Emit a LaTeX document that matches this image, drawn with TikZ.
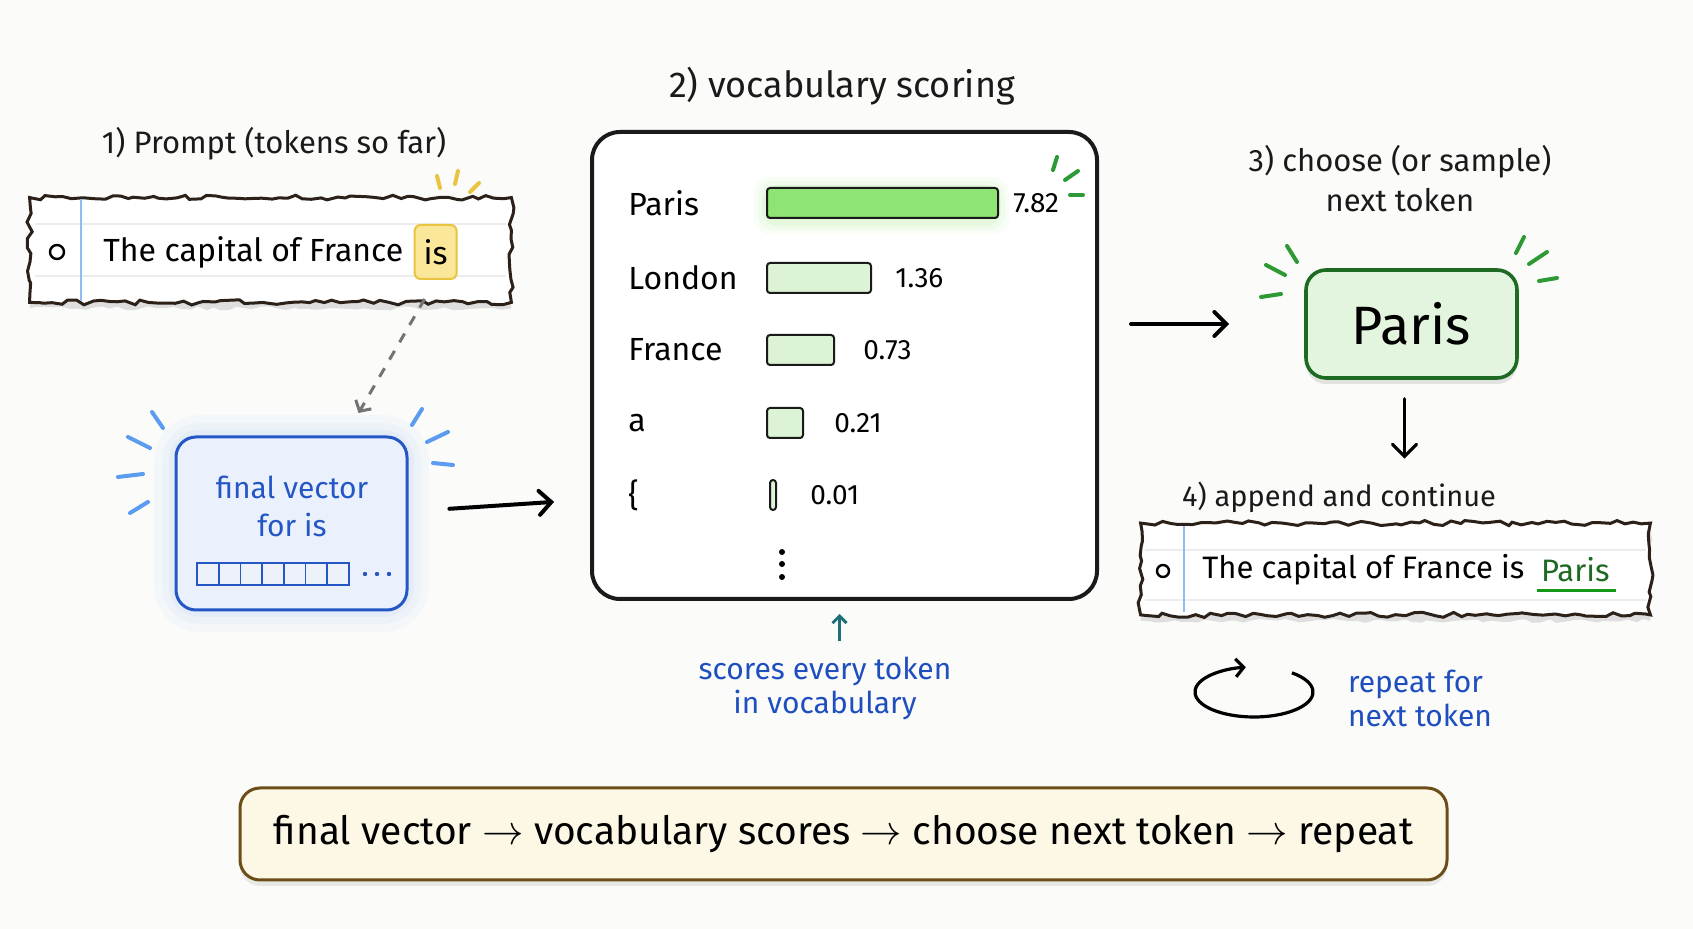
\documentclass[tikz,border=0pt]{standalone}
\usepackage{fontspec}
\setmainfont{Fira Sans}
\usetikzlibrary{arrows.meta,positioning,calc,decorations.pathmorphing,shadows}
\definecolor{InkClr}{HTML}{1A1A1A}
\definecolor{PaperClr}{HTML}{FBFBFA}
\definecolor{StripClr}{HTML}{2B2119}
\definecolor{MarginClr}{HTML}{8DBDF2}
\definecolor{RuleClr}{HTML}{ECECEC}
\definecolor{NoteClr}{HTML}{1F4FBF}
\definecolor{VecClr}{HTML}{2457C5}
\definecolor{VecFill}{HTML}{EAF1FD}
\definecolor{SparkBlue}{HTML}{5B9CF0}
\definecolor{TealClr}{HTML}{1F6F7A}
\definecolor{BarClr}{HTML}{8EE474}
\definecolor{BarLight}{HTML}{DDF3D6}
\definecolor{PickClr}{HTML}{1E6A22}
\definecolor{PickFill}{HTML}{E4F5DF}
\definecolor{SparkGreen}{HTML}{2E9A35}
\definecolor{IsFill}{HTML}{FBE79A}
\definecolor{IsClr}{HTML}{E8C440}
\definecolor{SumFill}{HTML}{FDF8E6}
\definecolor{SumClr}{HTML}{6B4E17}

\tikzset{
  torn/.style={draw=StripClr,line width=1.5pt,fill=white,
    decorate,decoration={random steps,segment length=4pt,amplitude=1.3pt}},
  spark/.style={line width=2pt,line cap=round},
  title/.style={font=\fontsize{15.5}{20}\selectfont,text=InkClr,align=center},
  note/.style={font=\fontsize{15}{17}\selectfont,text=NoteClr,align=center},
  word/.style={font=\fontsize{16}{20}\selectfont,anchor=west,inner sep=0pt},
  score/.style={font=\fontsize{14}{16}\selectfont,anchor=west,inner sep=0pt},
  bar/.style={draw=InkClr,line width=1pt,rounded corners=1.5pt,anchor=west,
    inner sep=0pt,minimum height=15pt},
  flow/.style={line width=2pt,line cap=round,
    -{Straight Barb[length=6pt,width=12pt,line cap=round]}},
  hint/.style={line width=1.5pt,draw=black!55,dash pattern=on 5pt off 5pt,
    -{Straight Barb[length=4pt,width=9pt]}},
  uparrow/.style={line width=1.5pt,draw=TealClr,
    -{Straight Barb[length=3.5pt,width=7pt]}},
}

\begin{document}
\begin{tikzpicture}[x=0.5pt,y=-0.5pt]
\pgfmathsetseed{7}
\fill[PaperClr] (0,0) rectangle (1693,929);
\useasboundingbox (0,0) rectangle (1693,929);

% 1) prompt
\node[title] (title1) at (274,144) {1) Prompt (tokens so far)};
\node[minimum width=240.5pt,minimum height=52pt] (prompt) at (270.5,250) {};
\fill[black!13,decorate,decoration={random steps,segment length=4pt,amplitude=1pt}]
  ([yshift=-3pt]prompt.north west) rectangle ([yshift=-3pt]prompt.south east);
\draw[torn] (prompt.north west) rectangle (prompt.south east);
\foreach \y in {224,276} \draw[RuleClr,line width=0.8pt] (35,\y) -- (506,\y);
\draw[MarginClr,line width=1.2pt] (81,199) -- (81,301);
\draw[line width=1.2pt] (57,252) circle[radius=7];
\node[word,font=\fontsize{16}{19}\selectfont] (ptext) at (103,252) {The capital of France};
\node[right=5pt of ptext,fill=IsFill,draw=IsClr,line width=1pt,rounded corners=3pt,
  minimum height=27pt,minimum width=21pt,font=\fontsize{16}{19}\selectfont] (isbox) {is};
\foreach \a/\b/\c/\d in {437/176/440/188,458/171/455/184,479/183/470/192}
  \draw[spark,IsClr] (\a,\b) -- (\c,\d);

% final vector
\foreach \w/\o in {22/0.04,14/0.05,7/0.06}
  \draw[SparkBlue,opacity=\o,line width=\w pt,rounded corners=12pt] (176,437) rectangle (407,610);
\node[draw=VecClr,fill=VecFill,line width=1.5pt,rounded corners=10pt,
  minimum width=115.5pt,minimum height=86.5pt] (vecbox) at (291.5,523.5) {};
\node[note,text=VecClr,font=\fontsize{15}{19}\selectfont] (vectext) at (292,506) {final vector\\for is};
\foreach \i in {0,...,6}
  \draw[VecClr,line width=0.9pt,fill=VecClr!8] (197+\i*21.7,563) rectangle ++(21.7,22);
\foreach \x in {365,377,389} \fill[VecClr] (\x,574) circle[radius=2.2];
\foreach \a/\b/\c/\d in {152/412/163/428,128/437/150/448,118/477/143/474,130/513/148/502,
  412/425/422/409,427/442/448/432,433/463/453/465}
  \draw[spark,SparkBlue] (\a,\b) -- (\c,\d);
\draw[hint,shorten <=11pt,shorten >=13pt] (isbox.south) -- ([xshift=27pt]vecbox.north);

% 2) vocabulary scoring
\node[title,font=\fontsize{18}{20}\selectfont] (title2) at (842,86) {2) vocabulary scoring};
\node[draw=InkClr,fill=white,line width=2pt,rounded corners=14pt,
  minimum width=252.5pt,minimum height=233.5pt] (scorebox) at (844.5,365.5) {};
\foreach \g/\o in {12/0.06,8/0.08,4/0.1}
  \fill[BarClr,opacity=\o,rounded corners=8pt] (766-\g,189-\g) rectangle (997+\g,222+\g);
\foreach \lbl/\y/\x/\w/\v/\vx/\f [count=\i] in {Paris/203/766/231/7.82/1013/BarClr,
  London/278/766/104/1.36/895/BarLight,France/350/766/67/0.73/863/BarLight,
  a/423/766/36/0.21/834/BarLight,\{/495/769/6/0.01/810/BarLight}{
  \node[word] (lbl\i) at (628,\y) {\lbl};
  \node[bar,fill=\f,minimum width=\w*0.5pt] (bar\i) at (\x,\y) {};
  \node[score] (val\i) at (\vx,\y) {\v};
}
\foreach \y in {552,564,577} \fill (782,\y) circle[radius=3];
\foreach \a/\b/\c/\d in {1053/170/1057/157,1065/180/1078/171,1070/195/1083/195}
  \draw[spark,SparkGreen] (\a,\b) -- (\c,\d);
\draw[flow,shorten <=20.5pt,shorten >=18pt] ([yshift=6pt]vecbox.east) -- ([yshift=12pt]scorebox.west |- vecbox.east);

\node[note] (note) at (825,688) {scores every token\\in vocabulary};
\draw[uparrow,shorten <=4pt,shorten >=6.5pt] ([xshift=-2.5pt]scorebox.south |- note.north) -- ([xshift=-2.5pt]scorebox.south);

% 3) choose
\node[title] (title3) at (1400,179) {3) choose (or sample)\\next token};
\node[draw=PickClr,fill=PickFill,line width=1.8pt,rounded corners=10pt,
  minimum width=105.5pt,minimum height=54pt,font=\fontsize{27}{30}\selectfont,
  drop shadow={opacity=0.2,shadow xshift=0pt,shadow yshift=-3pt}] (pick) at (1411.5,324) {Paris};
\foreach \a/\b/\c/\d in {1287/246/1297/262,1266/265/1285/275,1261/297/1281/294,
  1516/253/1524/237,1529/264/1547/252,1539/281/1557/278}
  \draw[spark,SparkGreen] (\a,\b) -- (\c,\d);
\draw[flow,shorten <=16pt,shorten >=37.5pt] (scorebox.east |- pick.west) -- (pick.west);

% 4) append
\node[title,font=\fontsize{14.5}{18}\selectfont] (title4) at (1339,497) {4) append and continue};
\draw[flow,line width=1.6pt,shorten <=9.5pt,shorten >=8pt] ([xshift=-3.5pt]pick.south) -- ([xshift=-3.5pt]pick.south |- title4.north);
\node[minimum width=254.5pt,minimum height=45.5pt] (outstrip) at (1395.5,569) {};
\fill[black!13,decorate,decoration={random steps,segment length=4pt,amplitude=1pt}]
  ([yshift=-3pt]outstrip.north west) rectangle ([yshift=-3pt]outstrip.south east);
\draw[torn] (outstrip.north west) rectangle (outstrip.south east);
\foreach \y in {550,600} \draw[RuleClr,line width=0.8pt] (1145,\y) -- (1646,\y);
\draw[MarginClr,line width=1.2pt] (1184,526) -- (1184,612);
\draw[line width=1.2pt] (1163,571) circle[radius=6];
\node[word,font=\fontsize{15.5}{18}\selectfont] (otext) at (1202,570) {The capital of France is};
\node[word,right=8pt of otext,text=PickClr,font=\fontsize{15.5}{18}\selectfont] (opick) {Paris};
\draw[PickClr!70!green,line width=1.5pt] ([yshift=-4pt,xshift=-2pt]opick.south west) -- ([yshift=-4pt,xshift=3pt]opick.south east);

\coordinate (loopc) at (1254,692);
\draw[line width=1.6pt,-{Straight Barb[length=4pt,width=9pt]}]
  ($(loopc)+(-50:59 and 25)$) arc[start angle=-50,end angle=262,x radius=59,y radius=25];
\node[note,align=left,anchor=west] (repeat) at (1341,698) {repeat for\\next token};

% summary
\node[draw=SumClr,fill=SumFill,line width=1.5pt,rounded corners=10pt,
  minimum width=603.5pt,minimum height=46pt,font=\fontsize{19.5}{22}\selectfont,
  drop shadow={opacity=0.15,shadow xshift=0pt,shadow yshift=-3pt}] (summary) at (843.5,834)
  {final vector $\rightarrow$ vocabulary scores $\rightarrow$ choose next token $\rightarrow$ repeat};

\end{tikzpicture}
\end{document}
